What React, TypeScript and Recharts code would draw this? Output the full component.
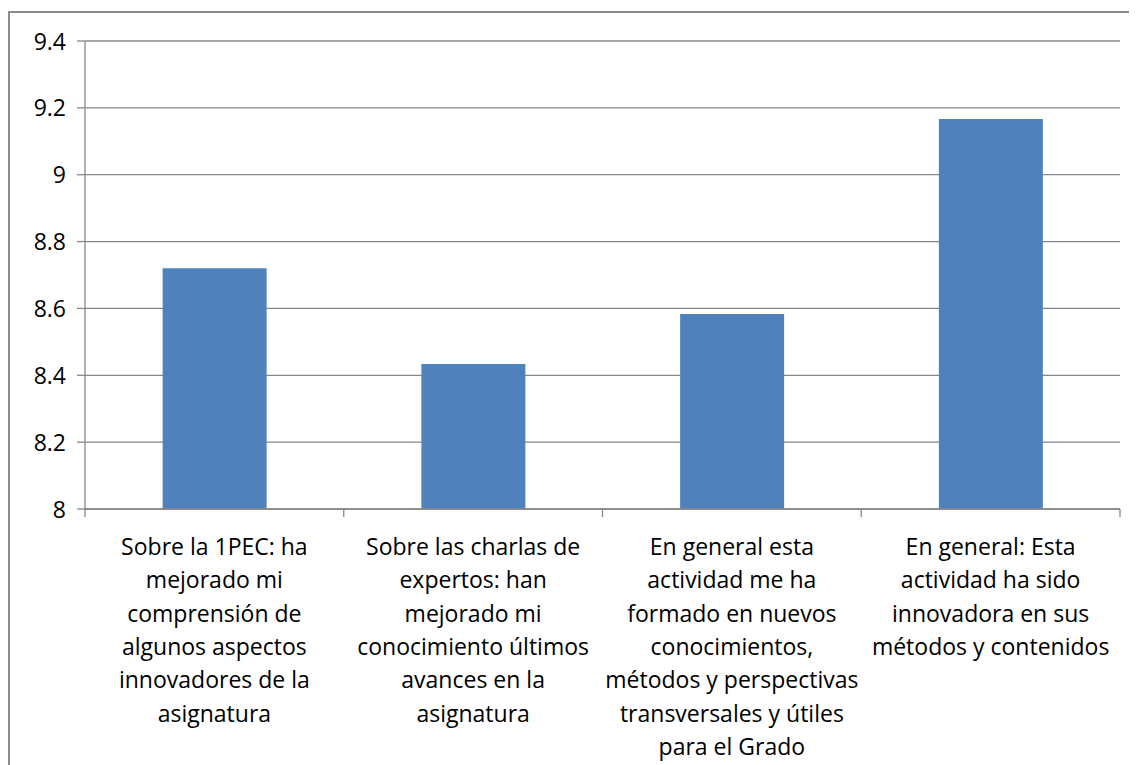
import React from "react";
import { BarChart, Bar, XAxis, YAxis, CartesianGrid } from "recharts";

const categoryLines: string[][] = [
  ["Sobre la 1PEC: ha", "mejorado mi", "comprensión de", "algunos aspectos", "innovadores de la", "asignatura"],
  ["Sobre las charlas de", "expertos: han", "mejorado mi", "conocimiento últimos", "avances en la", "asignatura"],
  ["En general esta", "actividad me ha", "formado en nuevos", "conocimientos,", "métodos y perspectivas", "transversales y útiles", "para el Grado"],
  ["En general: Esta", "actividad ha sido", "innovadora en sus", "métodos y contenidos"],
];
const categories = categoryLines.map((l) => l.join(" "));
const scores = [8.72, 8.434, 8.583, 9.167];
const yTicks = [8, 8.2, 8.4, 8.6, 8.8, 9, 9.2, 9.4];

const data = categories.map((name, i) => ({ name, score: scores[i] }));

const W = 1129;
const H = 757;
const M = { top: 33, right: 17, left: 0, bottom: 0 };
const Y_W = 77;
const FONT = "'Open Sans', sans-serif";
const GRID = "#878787";
const BAND = (W - M.left - M.right - Y_W) / categories.length;

function YTick(props: any) {
  const { x, y, payload } = props;
  return (
    <text x={x} y={y} dy={8.5} textAnchor="end" fontSize={23} fill="#000" style={{ fontFamily: FONT }}>
      {payload.value}
    </text>
  );
}

function XTick(props: any) {
  const { x, y, index } = props;
  const lines = categoryLines[index] || [];
  const left = x - BAND / 2;
  return (
    <g>
      <line x1={left} x2={left} y1={y} y2={y + 8} stroke={GRID} strokeWidth={1.3} />
      {index === categories.length - 1 && (
        <line x1={left + BAND} x2={left + BAND} y1={y} y2={y + 8} stroke={GRID} strokeWidth={1.3} />
      )}
      <text x={x} y={y} textAnchor="middle" fontSize={23} fill="#000" style={{ fontFamily: FONT }}>
        {lines.map((l, i) => (
          <tspan key={i} x={x} dy={i === 0 ? 46 : 33.3}>
            {l}
          </tspan>
        ))}
      </text>
    </g>
  );
}

export default function App() {
  return (
    <div style={{ position: "relative", width: W, height: H, overflow: "hidden" }}>
      <div
        style={{
          position: "absolute", left: 0, top: 3, width: 1400, height: 1000,
          border: "2px solid #8c8c8c", boxSizing: "border-box",
        }}
      />
      <div style={{ position: "absolute", left: 0, top: 0 }}>
        <BarChart width={W} height={H} data={data} margin={M} barCategoryGap="30%">
          <CartesianGrid vertical={false} stroke={GRID} strokeWidth={1.3} />
          <XAxis
            dataKey="name" height={H - M.top - 468} interval={0}
            tick={<XTick />} tickLine={false} tickSize={0} tickMargin={0}
            axisLine={{ stroke: GRID, strokeWidth: 1.3 }}
          />
          <YAxis
            width={Y_W} domain={[8, 9.4]} ticks={yTicks} interval={0}
            tick={<YTick />} tickSize={8} tickMargin={11}
            tickLine={{ stroke: GRID, strokeWidth: 1.3 }}
            axisLine={{ stroke: GRID, strokeWidth: 1.3 }}
          />
          <Bar dataKey="score" fill="#4f81bd" isAnimationActive={false} />
        </BarChart>
      </div>
    </div>
  );
}
